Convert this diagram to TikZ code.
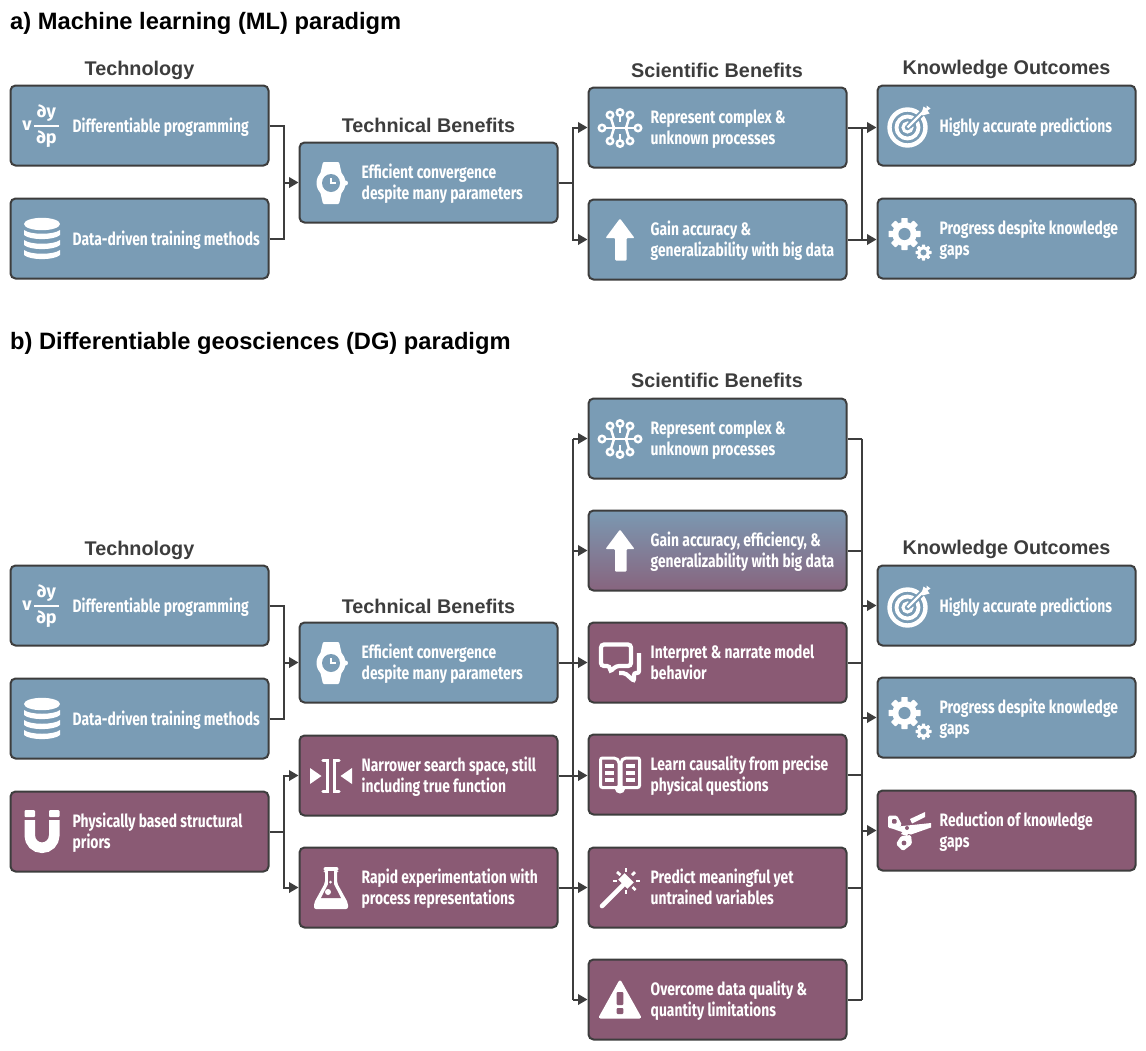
\documentclass[tikz,border=0pt]{standalone}
\usepackage{fontspec}
\usetikzlibrary{arrows.meta,calc}
\setmainfont{Liberation Sans}
\newfontfamily\boxfont[FakeStretch=0.77]{Fira Sans}
\newfontfamily\fracfont{Fira Sans}
\newfontfamily\headfont{Liberation Sans}
\definecolor{blu}{HTML}{7A9CB5}
\definecolor{pur}{HTML}{8A5A74}
\definecolor{edge}{HTML}{3D3D3D}
\pgfdeclareverticalshading{gb}{100bp}{color(0bp)=(pur); color(15bp)=(pur); color(78bp)=(blu); color(100bp)=(blu)}
\tikzset{
  x=1pt,y=-1pt,
  card/.style={draw=edge,line width=2pt,rounded corners=5pt,minimum width=258pt,minimum height=80pt,inner sep=0pt},
  lab/.style={anchor=west,inner sep=0pt,align=left,text=white,font=\boxfont\bfseries\fontsize{18}{21}\selectfont},
  title/.style={inner sep=0pt,text=edge,font=\headfont\bfseries\fontsize{19.8}{24}\selectfont},
  head/.style={anchor=west,inner sep=0pt,text=black,font=\headfont\bfseries\fontsize{23.7}{28}\selectfont},
  wire/.style={draw=edge,line width=2pt},
  arr/.style={wire,-{Triangle[length=9.5pt,width=10.5pt]}},
  ic/.style={fill=white,draw=none},
  icl/.style={draw=white,fill=none},
  frac/.style={inner sep=0pt,text=white,font=\fracfont\bfseries\fontsize{18}{20}\selectfont},
}
% box: name, left, top, fill style, text, icon
\newcommand{\bx}[6]{%
  \node[card,#4] (#1) at (#2+129.5,#3+40.5) {};
  \node[lab] (#1l) at ([xshift=63pt,yshift=-1.5pt]#1.west) {\vphantom{fg}#5\vphantom{fg}};
  \begin{scope}[shift={(#2+32,#3+41)}]#6\end{scope}%
}
\newcommand{\icdydp}[1]{%
  \node[frac] (#1v) at (-15,0) {v};
  \node[frac] (#1a) at (4.5,-13) {∂y};
  \node[frac] (#1b) at (4.5,13) {∂p};
  \fill[white] (-8,-1) rectangle (17,1);
}
\newcommand{\icdb}{%
  \fill[ic] (0,-15) ellipse (18 and 6.2);
  \foreach \yy in {-9,1,11}{
    \fill[ic] (-18,\yy) .. controls (-12,\yy+5) and (12,\yy+5) .. (18,\yy) -- (18,\yy+5) .. controls (12,\yy+10.5) and (-12,\yy+10.5) .. (-18,\yy+5) -- cycle;}
}
\newcommand{\icwatch}[1]{%
  \fill[ic,rounded corners=1pt] (-8,-21) -- (8,-21) -- (11,-8) -- (-11,-8) -- cycle;
  \fill[ic,rounded corners=1pt] (-8,21) -- (8,21) -- (11,8) -- (-11,8) -- cycle;
  \fill[ic] (0,0) circle (14.5);
  \fill[ic] (14.5,0) circle (2.5);
  \fill[#1] (0,0) circle (9);
  \fill[ic] (-1.5,-5) rectangle (1.2,1.2);
  \fill[ic] (-1.5,-1.2) rectangle (5,1.2);
}
\newcommand{\icnet}[1]{%
  \begin{scope}[line width=2.5pt]
  \draw[icl] (-18,0) circle (3.2) (18,0) circle (3.2);
  \draw[icl] (-10,-13) circle (3.2) (10,-13) circle (3.2) (0,-15.5) circle (3.2);
  \draw[icl] (-10,13) circle (3.2) (10,13) circle (3.2) (0,15.5) circle (3.2);
  \draw[icl] (-14.8,0) -- (14.8,0);
  \draw[icl] (-9,-9.8) -- (-6,0) -- (-9,9.8);
  \draw[icl] (9,-9.8) -- (6,0) -- (9,9.8);
  \draw[icl] (0,-12.3) -- (0,-6);
  \draw[icl] (0,12.3) -- (0,6);
  \end{scope}
}
\newcommand{\icup}{%
  \fill[ic,rounded corners=1pt] (0,-21.5) -- (14.5,-2) -- (6.5,-2) -- (6.5,20.5) -- (-5,20.5) -- (-5,-2) -- (-14.5,-2) -- cycle;
}
\newcommand{\ictarget}[1]{%
  \begin{scope}[xshift=-1.5pt,yshift=-1.5pt]
  \draw[icl,line width=4.4pt] (0,0) circle (18);
  \draw[icl,line width=3.8pt] (0,0) circle (11);
  \draw[icl,line width=3pt] (0,0) circle (4.5);
  \draw[#1,line width=6pt] (1,-1) -- (22,-22);
  \draw[icl,line width=2.4pt] (0,0) -- (17,-17);
  \fill[ic] (14,-14) -- (16,-21) -- (19,-19) -- (19,-22) -- (23,-19) -- (20,-17) -- (22,-14) -- (15,-12) -- cycle;
  \end{scope}
}
\newcommand{\icgearpart}[4]{% x y r bg
  \begin{scope}[shift={(#1,#2)}]
  \foreach \aa in {0,45,...,315}{
    \fill[ic,rotate=\aa,rounded corners=0.5pt] (-#3*0.2,-#3) rectangle (#3*0.2,0);}
  \fill[ic] (0,0) circle (#3*0.76);
  \fill[#4] (0,0) circle (#3*0.38);
  \end{scope}
}
\newcommand{\icgears}[1]{\icgearpart{-4.5}{-5}{16}{#1}\icgearpart{14.5}{13.5}{8}{#1}}
\newcommand{\icspeech}{%
  \begin{scope}[line width=4.2pt]
  \draw[icl,rounded corners=3pt] (-19,-18.5) -- (11,-18.5) -- (11,3) -- (-4,3) -- (-10,9) -- (-10,3) -- (-19,3) -- cycle;
  \draw[icl,rounded corners=2pt] (19,-10) -- (19,10) -- (14,10) -- (14,18) -- (5,10) -- (-1,10);
  \end{scope}
}
\newcommand{\icbook}[1]{%
  \fill[ic] (0,14) ellipse (5 and 4.5);
  \begin{scope}[line width=3pt,rounded corners=2pt]
  \draw[icl,fill=#1] (-1,-14) -- (-4,-17) -- (-19.5,-17) -- (-19.5,12.5) -- (-1,12.5) -- cycle;
  \draw[icl,fill=#1] (1,-14) -- (4,-17) -- (19.5,-17) -- (19.5,12.5) -- (1,12.5) -- cycle;
  \end{scope}
  \foreach \yy in {-9,-2,5}{
    \fill[ic] (-15,\yy-1.6) rectangle (-6,\yy+1.6);
    \fill[ic] (6,\yy-1.6) rectangle (15,\yy+1.6);}
}
\newcommand{\icwand}{%
  \draw[icl,line width=4.6pt,line cap=round] (-18,18) -- (3,-3);
  \fill[ic,rotate around={-45:(6,-7)}] (-0.5,-11.5) rectangle (12.5,-2.5);
  \begin{scope}[line width=2.8pt]
  \draw[icl] (6,-20) -- (6,-16);
  \draw[icl] (-3,-16) -- (0.5,-13);
  \draw[icl] (15,-16) -- (12,-13);
  \draw[icl] (16,-7) -- (20,-7);
  \draw[icl] (-7,-7) -- (-3,-7);
  \draw[icl] (6,2) -- (6,6);
  \draw[icl] (12.5,-1) -- (15.5,2);
  \end{scope}
}
\newcommand{\icwarn}[1]{%
  \draw[ic,draw=white,line width=3pt,line join=round] (0,-18) -- (19.5,17) -- (-19.5,17) -- cycle;
  \fill[#1,rounded corners=1pt] (-3.4,-8) rectangle (3.4,5);
  \fill[#1,rounded corners=1pt] (-3.4,8) rectangle (3.4,14);
}
\newcommand{\icmagnet}{%
  \fill[ic,rounded corners=1pt] (-17.5,-22) rectangle (-7,-15);
  \fill[ic,rounded corners=1pt] (7,-22) rectangle (17.5,-15);
  \draw[icl,line width=10.5pt] (-12.25,-12) -- (-12.25,3.5) arc (180:0:12.25) -- (12.25,-12);
}
\newcommand{\icnarrow}{%
  \fill[ic] (-21,-8) -- (-9.5,0) -- (-21,8) -- cycle;
  \fill[ic] (21,-8) -- (9.5,0) -- (21,8) -- cycle;
  \begin{scope}[line width=3.2pt,line cap=round]
  \draw[icl] (-8,-15.5) -- (-3.5,-15.5) -- (-3.5,15.5) -- (-8,15.5);
  \draw[icl] (8,-15.5) -- (3.5,-15.5) -- (3.5,15.5) -- (8,15.5);
  \end{scope}
}
\newcommand{\icflask}[1]{%
  \fill[ic,rounded corners=2pt] (-7.5,-21) -- (7.5,-21) -- (7.5,-17) -- (6,-17) -- (6,-5) -- (17,15) -- (17,21) -- (-17,21) -- (-17,15) -- (-6,-5) -- (-6,-17) -- (-7.5,-17) -- cycle;
  \fill[#1] (-2.8,-17) -- (2.8,-17) -- (2.8,-4) -- (10,10) -- (-10,10) -- (-2.8,-4) -- cycle;
  \fill[ic] (-0.5,-6) circle (1.5);
  \fill[ic] (-3,4) circle (3);
}
\newcommand{\icscissors}[1]{%
  \fill[ic] (-20,-3.5) -- (22,-8) -- (22,-3.5) -- (2,3.5) -- (-4,2) -- cycle;
  \fill[ic] (1,-12) -- (16,-19) -- (16,-14) -- (3,-7.5) -- cycle;
  \fill[ic,rounded corners=1.5pt] (-21,-15.5) -- (-12,-15.5) -- (-7,-6) -- (-11,-3) -- (-21,-3) -- cycle;
  \fill[#1,rounded corners=1pt] (-17,-12) rectangle (-12.5,-7.5);
  \fill[ic] (-8,3) -- (-3,-4) -- (1,-2) -- (-2,5) -- cycle;
  \fill[ic,rounded corners=1.5pt] (-8,5) -- (2,4) -- (3,13) -- (-6,20) -- (-13,13) -- cycle;
  \fill[#1] (-5,12) circle (2.4);
  \fill[#1] (-2,-3) circle (2);
}
\begin{document}
\begin{tikzpicture}
\useasboundingbox (0,0) rectangle (1146,1050);
\fill[white] (0,0) rectangle (1146,1050);
%%% headings
\node[head] (ha) at (10,23) {a) Machine learning (ML) paradigm};
\node[head] (hb) at (10,343) {b) Differentiable geosciences (DG) paradigm};
\node[title] (ta1) at (139.5,70.5) {Technology};
\node[title] (ta2) at (428.5,125.5) {Technical Benefits};
\node[title] (ta3) at (717,70.5) {Scientific Benefits};
\node[title] (ta4) at (1006.5,69.5) {Knowledge Outcomes};
\node[title] (tb3) at (717,380.5) {Scientific Benefits};
\node[title] (tb1) at (139.5,550.5) {Technology};
\node[title] (tb2) at (428.5,606.5) {Technical Benefits};
\node[title] (tb4) at (1006.5,549.5) {Knowledge Outcomes};
%%% panel a
\bx{at1}{10}{85}{fill=blu}{Differentiable programming}{\icdydp{da}}
\bx{at2}{10}{198}{fill=blu}{Data-driven training methods}{\icdb}
\bx{ab1}{299}{142}{fill=blu}{Efficient convergence\\despite many parameters}{\icwatch{blu}}
\bx{as1}{588}{87}{fill=blu}{Represent complex \&\\unknown processes}{\icnet{blu}}
\bx{as2}{588}{199}{fill=blu}{Gain accuracy \&\\generalizability with big data}{\icup}
\bx{ak1}{877}{85}{fill=blu}{Highly accurate predictions}{\ictarget{blu}}
\bx{ak2}{877}{198}{fill=blu}{Progress despite knowledge\\gaps}{\icgears{blu}}
\coordinate (aj1) at (283.5,182.5);
\coordinate (aj2) at (573,182.5);
\coordinate (aj3) at (862,0);
\draw[wire] (at1.east) -| (aj1);
\draw[wire] (at2.east) -| (aj1);
\draw[arr] (aj1) -- (ab1.west);
\draw[wire] (ab1.east) -- (aj2);
\draw[arr] (aj2) |- (as1.west);
\draw[arr] (aj2) |- (as2.west);
\draw[arr] (as1.east) -- (as1.east -| ak1.west);
\draw[arr] (as2.east) -- (as2.east -| ak2.west);
\draw[wire] (as1.east -| aj3) -- (as2.east -| aj3);
%%% panel b
\bx{bt1}{10}{565}{fill=blu}{Differentiable programming}{\icdydp{db}}
\bx{bt2}{10}{678}{fill=blu}{Data-driven training methods}{\icdb}
\bx{bt3}{10}{791}{fill=pur}{Physically based structural\\priors}{\icmagnet}
\bx{bb1}{299}{622}{fill=blu}{Efficient convergence\\despite many parameters}{\icwatch{blu}}
\bx{bb2}{299}{735}{fill=pur}{Narrower search space, still\\including true function}{\icnarrow}
\bx{bb3}{299}{847}{fill=pur}{Rapid experimentation with\\process representations}{\icflask{pur}}
\bx{bs1}{588}{398}{fill=blu}{Represent complex \&\\unknown processes}{\icnet{blu}}
\bx{bs2}{588}{510}{shading=gb}{Gain accuracy, efficiency, \&\\generalizability with big data}{\icup}
\bx{bs3}{588}{622}{fill=pur}{Interpret \& narrate model\\behavior}{\icspeech}
\bx{bs4}{588}{734}{fill=pur}{Learn causality from precise\\physical questions}{\icbook{pur}}
\bx{bs5}{588}{847}{fill=pur}{Predict meaningful yet\\untrained variables}{\icwand}
\bx{bs6}{588}{959}{fill=pur}{Overcome data quality \&\\quantity limitations}{\icwarn{pur}}
\bx{bk1}{877}{565}{fill=blu}{Highly accurate predictions}{\ictarget{blu}}
\bx{bk2}{877}{677}{fill=blu}{Progress despite knowledge\\gaps}{\icgears{blu}}
\bx{bk3}{877}{790}{fill=pur}{Reduction of knowledge\\gaps}{\icscissors{pur}}
\coordinate (bj1) at (284,662.5);
\coordinate (bj2) at (284,831.5);
\coordinate (bl) at (573,0);
\coordinate (br) at (862,0);
\draw[wire] (bt1.east) -| (bj1);
\draw[wire] (bt2.east) -| (bj1);
\draw[arr] (bj1) -- (bb1.west);
\draw[wire] (bt3.east) -- (bj2);
\draw[arr] (bj2) |- (bb2.west);
\draw[arr] (bj2) |- (bb3.west);
\draw[wire] (bs1.west -| bl) -- (bs6.west -| bl);
\draw[arr] (bs1.west -| bl) -- (bs1.west);
\draw[arr] (bs2.west -| bl) -- (bs2.west);
\draw[arr] (bs6.west -| bl) -- (bs6.west);
\draw[arr] (bb1.east) -- (bs3.west);
\draw[arr] (bb2.east) -- (bb2.east -| bs4.west);
\draw[arr] (bb3.east) -- (bs5.west);
\draw[wire] (bs1.east -| br) -- (bs6.east -| br);
\foreach \s in {bs1,bs2,bs3,bs4,bs5,bs6}{\draw[wire] (\s.east) -- (\s.east -| br);}
\foreach \k in {bk1,bk2,bk3}{\draw[arr] (\k.west -| br) -- (\k.west);}
\end{tikzpicture}
\end{document}
